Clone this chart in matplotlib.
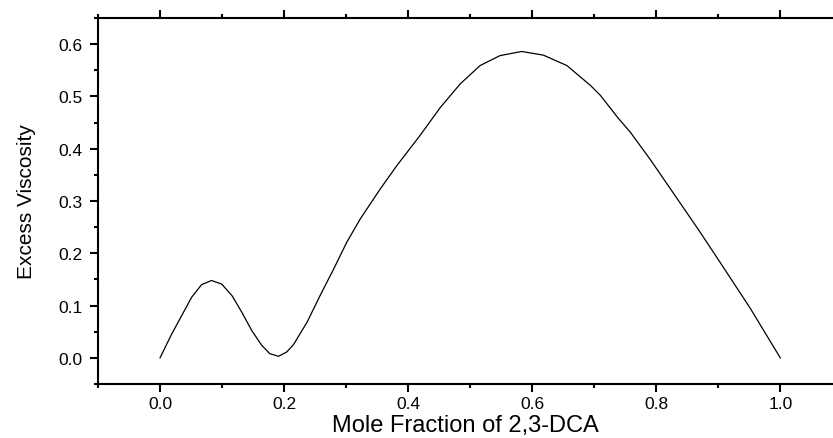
import matplotlib
matplotlib.use("Agg")
import matplotlib.pyplot as plt
from matplotlib.ticker import MultipleLocator

# values
mole_fraction = [0.0, 0.019, 0.035, 0.051, 0.067, 0.083, 0.0995, 0.116, 0.132, 0.148,
                 0.164, 0.177, 0.191, 0.204, 0.215, 0.237, 0.258, 0.280, 0.301, 0.323,
                 0.355, 0.382, 0.419, 0.452, 0.484, 0.516, 0.548, 0.583, 0.618, 0.656,
                 0.694, 0.710, 0.739, 0.758, 0.790, 0.830, 0.871, 0.910, 0.952, 1.0]
excess_visc = [0.0, 0.046, 0.081, 0.116, 0.140, 0.148, 0.141, 0.119, 0.087, 0.052,
               0.024, 0.008, 0.003, 0.011, 0.025, 0.068, 0.119, 0.170, 0.221, 0.266,
               0.323, 0.368, 0.425, 0.479, 0.524, 0.559, 0.578, 0.586, 0.579, 0.559,
               0.521, 0.502, 0.458, 0.432, 0.380, 0.311, 0.240, 0.170, 0.094, 0.0]

plt.rcParams['font.family'] = ['Liberation Sans', 'DejaVu Sans']

fig = plt.figure(figsize=(8.33, 4.39), dpi=100)
ax = fig.add_axes([98 / 833, 54 / 439, 1 - 98 / 833, (385 - 19) / 439])

ax.plot(mole_fraction, excess_visc, color='black', lw=0.9, solid_joinstyle='round')

ax.set_xlim(-0.1, 1.085)
ax.set_ylim(-0.05, 0.65)

ax.xaxis.set_major_locator(MultipleLocator(0.2))
ax.xaxis.set_minor_locator(MultipleLocator(0.1))
ax.yaxis.set_major_locator(MultipleLocator(0.1))
ax.yaxis.set_minor_locator(MultipleLocator(0.05))
ax.xaxis.set_major_formatter(lambda v, p: f"{v:.1f}")
ax.yaxis.set_major_formatter(lambda v, p: f"{v:.1f}")

ax.spines['right'].set_visible(False)
for s in ['left', 'top', 'bottom']:
    ax.spines[s].set_linewidth(1.5)

ax.tick_params(which='major', direction='out', length=6, width=1.5,
               labelsize=12.5, pad=5, top=True, right=False, labeltop=False)
ax.tick_params(which='minor', direction='out', length=3, width=1.5,
               top=True, right=False)
ax.tick_params(axis='x', which='major', pad=3)

ax.set_xlabel('Mole Fraction of 2,3-DCA', fontsize=17, labelpad=2)
ax.set_ylabel('Excess Viscosity', fontsize=15, labelpad=16)

fig.savefig('out.png', dpi=100)
